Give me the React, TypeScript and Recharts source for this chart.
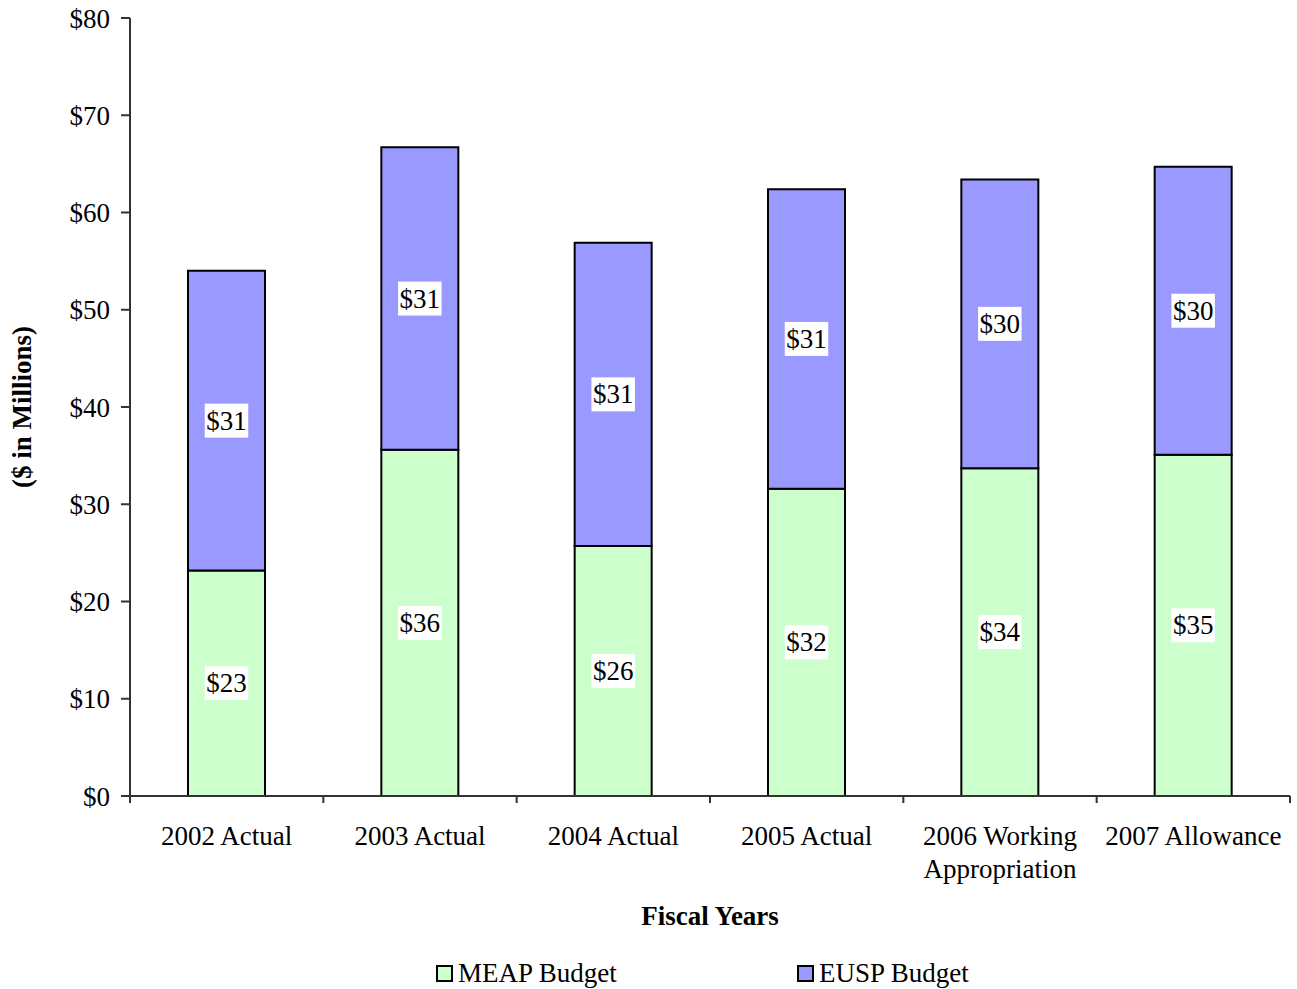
import { BarChart, Bar, XAxis, YAxis, LabelList, Legend } from 'recharts'

// fiscal years and budgets ($ in millions)
const years = ['2002 Actual', '2003 Actual', '2004 Actual', '2005 Actual', '2006 Working\nAppropriation', '2007 Allowance']
const meapBudget = [23.2, 35.6, 25.7, 31.6, 33.7, 35.1]
const euspBudget = [30.8, 31.1, 31.2, 30.8, 29.7, 29.6]
const yTicks = [0, 10, 20, 30, 40, 50, 60, 70, 80]

const data = years.map((year, i) => ({ year, meap: meapBudget[i], eusp: euspBudget[i] }))

const WIDTH = 1297
const HEIGHT = 989
const MARGIN = { top: 18, right: 7, bottom: 0, left: 0 }
const Y_AXIS_W = 130
const X_AXIS_H = 167
const LEGEND_H = 26
const PLOT_W = WIDTH - MARGIN.right - Y_AXIS_W - MARGIN.left
const PLOT_H = HEIGHT - MARGIN.top - X_AXIS_H - LEGEND_H
const BAND = PLOT_W / years.length

const FONT = '"Liberation Serif", "Times New Roman", serif'
const FS = 27
const AXIS = '#333333'
const BORDER = '#808080'
const MEAP_COLOR = '#CCFFCC'
const EUSP_COLOR = '#9999FF'

const CategoryTick = (props: any) => {
  const { x, y, payload, index } = props
  const lines = String(payload.value).split('\n')
  const left = x - BAND / 2
  const right = x + BAND / 2
  return (
    <g>
      <line x1={left} y1={y} x2={left} y2={y + 7} stroke={AXIS} strokeWidth={2} />
      {index === years.length - 1 && <line x1={right} y1={y} x2={right} y2={y + 7} stroke={AXIS} strokeWidth={2} />}
      <text x={x} y={y + 49} textAnchor="middle" fontFamily={FONT} fontSize={FS} fill="#000">
        {lines.map((line, i) => (
          <tspan key={i} x={x} dy={i === 0 ? 0 : 33}>
            {line}
          </tspan>
        ))}
      </text>
    </g>
  )
}

const ValueTag = (props: any) => {
  const { x, y, width, height, value } = props
  const text = `$${Math.round(Number(value))}`
  const cx = Number(x) + Number(width) / 2
  const cy = Number(y) + Number(height) / 2
  const w = text.length * 13.5 + 3
  const h = 34
  return (
    <g>
      <rect x={cx - w / 2} y={cy - h / 2} width={w} height={h} fill="#fff" />
      <text x={cx} y={cy + 9} textAnchor="middle" fontFamily={FONT} fontSize={FS} fill="#000">
        {text}
      </text>
    </g>
  )
}

const series = [
  { key: 'meap', name: 'MEAP Budget', color: MEAP_COLOR },
  { key: 'eusp', name: 'EUSP Budget', color: EUSP_COLOR },
]
const legendLeft = [436, 797]

const LegendBox = () => (
  <div style={{ position: 'relative', height: LEGEND_H, fontFamily: FONT, fontSize: FS, color: '#000' }}>
    {series.map((s, i) => (
      <div
        key={s.key}
        style={{ position: 'absolute', left: legendLeft[i], top: 0, height: LEGEND_H, display: 'flex', alignItems: 'center', whiteSpace: 'nowrap' }}
      >
        <span style={{ display: 'inline-block', width: 13, height: 13, border: '2.5px solid #000', background: s.color, marginRight: 5 }} />
        <span>{s.name}</span>
      </div>
    ))}
  </div>
)

export default function App() {
  return (
    <div style={{ position: 'absolute', left: 0, top: 0, background: '#fff' }}>
      <BarChart width={WIDTH} height={HEIGHT} data={data} margin={MARGIN} barCategoryGap="30%">
        <XAxis
          dataKey="year"
          height={X_AXIS_H}
          interval={0}
          tickSize={0}
          tickMargin={0}
          tickLine={false}
          axisLine={{ stroke: AXIS, strokeWidth: 2 }}
          tick={<CategoryTick />}
          label={{
            content: () => (
              <text
                x={Y_AXIS_W + PLOT_W / 2}
                y={MARGIN.top + PLOT_H + 129}
                textAnchor="middle"
                fontFamily={FONT}
                fontSize={FS}
                fontWeight="bold"
                fill="#000"
              >
                Fiscal Years
              </text>
            ),
          }}
        />
        <XAxis xAxisId="top" dataKey="year" orientation="top" height={0} tick={false} tickLine={false} axisLine={{ stroke: BORDER, strokeWidth: 2 }} />
        <YAxis
          width={Y_AXIS_W}
          domain={[0, 80]}
          ticks={yTicks}
          interval={0}
          tickSize={9}
          tickMargin={11}
          tickFormatter={(v: number) => `$${v}`}
          tick={{ fontFamily: FONT, fontSize: FS, fill: '#000' }}
          tickLine={{ stroke: AXIS, strokeWidth: 2 }}
          axisLine={{ stroke: AXIS, strokeWidth: 2 }}
          label={{
            content: () => {
              const cx = 22
              const cy = MARGIN.top + PLOT_H / 2
              return (
                <text
                  x={cx}
                  y={cy + 9}
                  transform={`rotate(-90, ${cx}, ${cy})`}
                  textAnchor="middle"
                  fontFamily={FONT}
                  fontSize={FS}
                  fontWeight="bold"
                  fill="#000"
                >
                  ($ in Millions)
                </text>
              )
            },
          }}
        />
        <YAxis yAxisId="right" orientation="right" width={0} domain={[0, 80]} tick={false} tickLine={false} axisLine={{ stroke: BORDER, strokeWidth: 2 }} />
        <Legend verticalAlign="bottom" content={<LegendBox />} wrapperStyle={{ left: 0, width: WIDTH, bottom: 3, height: LEGEND_H }} />
        {series.map((s) => (
          <Bar key={s.key} dataKey={s.key} name={s.name} stackId="budget" fill={s.color} stroke="#000" strokeWidth={2} isAnimationActive={false}>
            <LabelList dataKey={s.key} content={<ValueTag />} />
          </Bar>
        ))}
      </BarChart>
    </div>
  )
}
